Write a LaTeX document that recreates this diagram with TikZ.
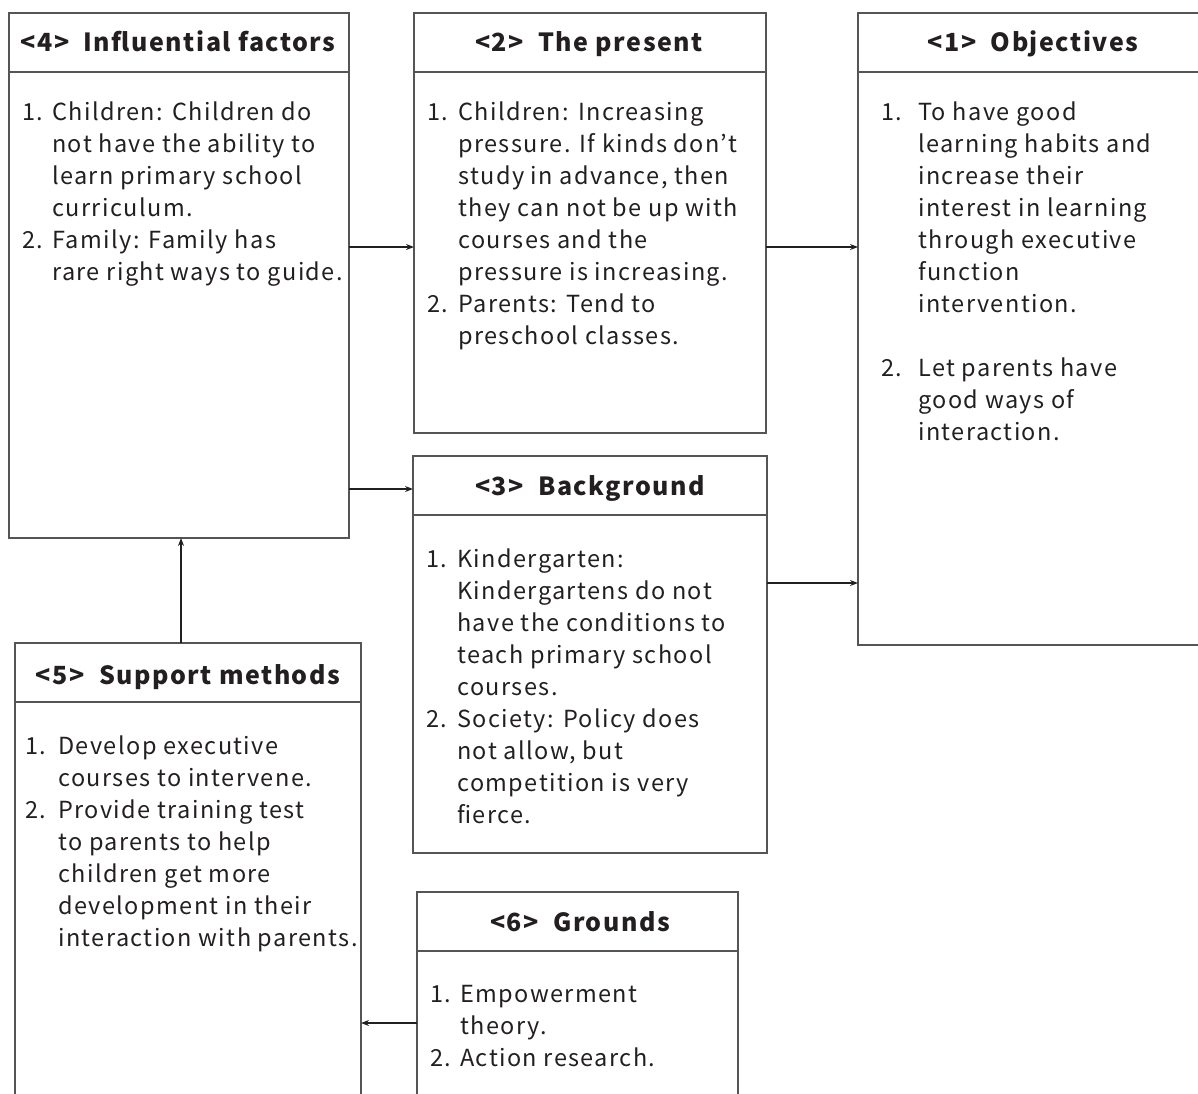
\documentclass[tikz,border=0pt]{standalone}
\usepackage{fontspec}
\setmainfont{Noto Sans CJK JP}[LetterSpace=6]
\usetikzlibrary{arrows.meta}
\definecolor{ink}{HTML}{231F20}
\definecolor{frame}{HTML}{555555}
\newlength\numw
\newcommand\itemno[1]{\makebox[\numw][l]{#1}}
\newcommand\itemcont{\hspace*{\numw}}
\tikzset{
  panel/.style={draw=frame, line width=1.4pt, rectangle, inner sep=0pt, outer sep=0pt, anchor=north west},
  divider/.style={draw=frame, line width=1.4pt},
  head/.style={font=\fontsize{25}{32}\selectfont\bfseries, text=ink, anchor=base, inner sep=0pt},
  body/.style={font=\fontsize{23.5}{32}\selectfont, text=ink, anchor=base west, inner sep=0pt},
  arr/.style={draw=ink, line width=1.8pt, -{Stealth[length=8pt,width=6pt]}}
}
\begin{document}
\begin{tikzpicture}[x=1pt,y=-1pt]
\useasboundingbox (0,0) rectangle (1198,1093);
\clip (0,0) rectangle (1198,1093);

% panels
\node[panel, minimum width=340pt, minimum height=525pt] (b4) at (9,13) {};
\node[panel, minimum width=352pt, minimum height=420pt] (b2) at (414,13) {};
\node[panel, minimum width=350pt, minimum height=632pt] (b1) at (858,13) {};
\node[panel, minimum width=354pt, minimum height=397pt] (b3) at (413,456) {};
\node[panel, minimum width=346pt, minimum height=480pt] (b5) at (15,643) {};
\node[panel, minimum width=321pt, minimum height=230pt] (b6) at (417,892) {};

% header dividers
\foreach \b in {b4,b2,b1,b3,b5,b6}
  \draw[divider] ([yshift=-59pt]\b.north west) -- ([yshift=-59pt]\b.north east);

% headers
\node[head] (h4) at (178,51) {<4>\ \ Influential factors};
\node[head] (h2) at (589,51) {<2>\ \ The present};
\node[head] (h1) at (1033,51) {<1>\ \ Objectives};
\node[head] (h3) at (590,495) {<3>\ \ Background};
\node[head] (h5) at (188,684) {<5>\ \ Support methods};
\node[head] (h6) at (580,931) {<6>\ \ Grounds};

% body texts
\setlength\numw{30pt}
\node[body] (t4) at (22,120) {\begin{tabular}[t]{@{}l@{}}
\itemno{1.}Children: Children do\\
\itemcont not have the ability to\\
\itemcont learn primary school\\
\itemcont curriculum.\\
\itemno{2.}Family: Family has\\
\itemcont rare right ways to guide.
\end{tabular}};

\setlength\numw{31pt}
\node[body] (t2) at (427,120) {\begin{tabular}[t]{@{}l@{}}
\itemno{1.}Children: Increasing\\
\itemcont pressure. If kinds don’t\\
\itemcont study in advance, then\\
\itemcont they can not be up with\\
\itemcont courses and the\\
\itemcont pressure is increasing.\\
\itemno{2.}Parents: Tend to\\
\itemcont preschool classes.
\end{tabular}};

\setlength\numw{37pt}
\node[body] (t1) at (881,120) {\begin{tabular}[t]{@{}l@{}}
\itemno{1.}To have good\\
\itemcont learning habits and\\
\itemcont increase their\\
\itemcont interest in learning\\
\itemcont through executive\\
\itemcont function\\
\itemcont intervention.\\
\\
\itemno{2.}Let parents have\\
\itemcont good ways of\\
\itemcont interaction.
\end{tabular}};

\setlength\numw{31pt}
\node[body] (t3) at (426,567) {\begin{tabular}[t]{@{}l@{}}
\itemno{1.}Kindergarten:\\
\itemcont Kindergartens do not\\
\itemcont have the conditions to\\
\itemcont teach primary school\\
\itemcont courses.\\
\itemno{2.}Society: Policy does\\
\itemcont not allow, but\\
\itemcont competition is very\\
\itemcont fierce.
\end{tabular}};

\setlength\numw{33pt}
\node[body] (t5) at (25,754) {\begin{tabular}[t]{@{}l@{}}
\itemno{1.}Develop executive\\
\itemcont courses to intervene.\\
\itemno{2.}Provide training test\\
\itemcont to parents to help\\
\itemcont children get more\\
\itemcont development in their\\
\itemcont interaction with parents.
\end{tabular}};

\setlength\numw{30pt}
\node[body] (t6) at (430,1002) {\begin{tabular}[t]{@{}l@{}}
\itemno{1.}Empowerment\\
\itemcont theory.\\
\itemno{2.}Action research.
\end{tabular}};

% connector rows
\coordinate (r1) at (0,247);
\coordinate (r2) at (0,489);
\coordinate (r3) at (0,583);
\coordinate (r4) at (0,1023);
\coordinate (c1) at (181,0);

\draw[arr] (b4.east |- r1) -- (b2.west |- r1);
\draw[arr] (b4.east |- r2) -- (b3.west |- r2);
\draw[arr] (b2.east |- r1) -- (b1.west |- r1);
\draw[arr] (b3.east |- r3) -- (b1.west |- r3);
\draw[arr] (b5.north -| c1) -- (b4.south -| c1);
\draw[arr] (b6.west |- r4) -- (b5.east |- r4);
\end{tikzpicture}
\end{document}
